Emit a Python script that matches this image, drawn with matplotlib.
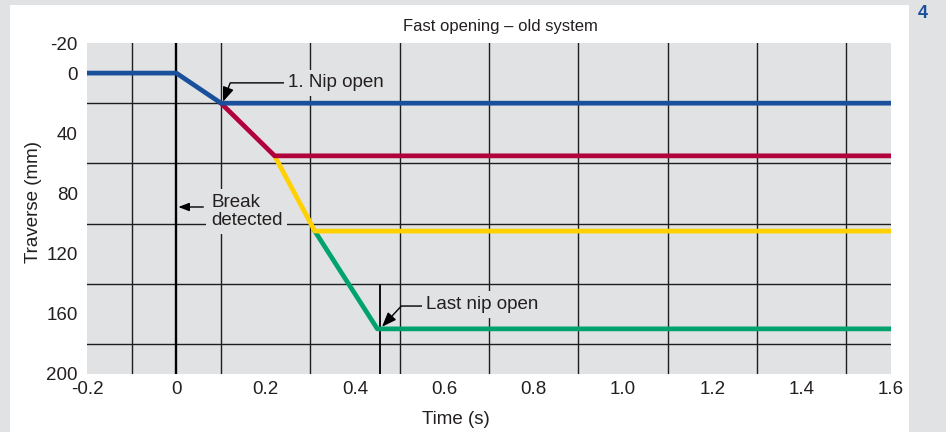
import numpy as np
import matplotlib.pyplot as plt
from matplotlib.patches import Rectangle

plt.rcParams['font.family'] = ['Liberation Sans', 'DejaVu Sans']

# traverse of each nip over time (s -> mm)
time_blue = [-0.2, 0.0, 0.1, 1.6]
trav_blue = [0, 0, 20, 20]
time_red = [0.1, 0.22, 1.6]
trav_red = [20, 55, 55]
time_yellow = [0.22, 0.31, 1.6]
trav_yellow = [55, 105, 105]
time_green = [0.31, 0.45, 1.6]
trav_green = [105, 170, 170]

break_time = 0.0
last_nip_time = 0.457

x_ticks = [-0.2, 0.0, 0.2, 0.4, 0.6, 0.8, 1.0, 1.2, 1.4, 1.6]
x_labels = ['-0.2', '0', '0.2', '0.4', '0.6', '0.8', '1.0', '1.2', '1.4', '1.6']
y_ticks = [-20, 0, 40, 80, 120, 160, 200]
y_labels = ['-20', '0', '40', '80', '120', '160', '200']
x_grid = [-0.1, 0.0, 0.1, 0.2, 0.3, 0.4, 0.5, 0.6, 0.7, 0.8, 0.9, 1.0, 1.1, 1.2, 1.3, 1.4, 1.5]
y_grid = [0, 20, 40, 60, 80, 100, 120, 140, 160, 180]

BG = '#e1e2e3'
FS = 13.5
TXT = '#231f20'

fig = plt.figure(figsize=(9.46, 4.32), dpi=100)
fig.patch.set_facecolor(BG)
fig.patches.append(Rectangle((10 / 946, 0), 899 / 946, 1 - 5 / 432,
                             transform=fig.transFigure, fc='white', ec='none', zorder=-10))

ax = fig.add_axes([87 / 946, 1 - 374 / 432, 804 / 946, 331 / 432])
ax.set_facecolor(BG)
for s in ax.spines.values():
    s.set_visible(False)

ax.set_xlim(-0.2, 1.6)
ax.set_ylim(200, -20)
ax.set_xticks(x_ticks)
ax.set_xticklabels(x_labels)
ax.set_yticks(y_ticks)
ax.set_yticklabels(y_labels)
ax.set_xticks(x_grid, minor=True)
ax.set_yticks(y_grid, minor=True)
ax.tick_params(which='both', length=0, labelsize=FS, labelcolor=TXT)
ax.tick_params(axis='x', pad=5)
ax.tick_params(axis='y', pad=6.5)
ax.grid(which='minor', color='#1e1e1e', lw=1.0)
ax.grid(which='major', visible=False)
ax.set_axisbelow(True)

ax.axvline(break_time, color='black', lw=1.7, zorder=1)
ax.plot([last_nip_time, last_nip_time], [141, 200], color='black', lw=1.3, zorder=1)

# draw from last to first so earlier nips sit on top
ax.plot(time_green, trav_green, color='#00a36c', lw=3.4, zorder=2)
ax.plot(time_yellow, trav_yellow, color='#ffd100', lw=3.4, zorder=3)
ax.plot(time_red, trav_red, color='#b2003c', lw=3.4, zorder=4)
ax.plot(time_blue, trav_blue, color='#1a4f9c', lw=3.4, zorder=5)

box = dict(boxstyle='square,pad=0.25', fc=BG, ec='none')
arrow = dict(arrowstyle='-|>,head_length=0.65,head_width=0.25', color='black', lw=1,
             shrinkA=0, shrinkB=0)

ax.annotate('1. Nip open', xy=(0.1045, 19), xytext=(0.251, 6.5), ha='left', va='center',
            fontsize=FS, color=TXT, bbox=box, zorder=6,
            arrowprops=dict(arrow, connectionstyle='angle,angleA=0,angleB=69,rad=0', relpos=(0, 0.5)))

ax.text(0.078, 92, 'Break\ndetected', ha='left', va='center', fontsize=FS, color=TXT, bbox=box,
        linespacing=1.15, zorder=6)
ax.annotate('', xy=(0.0045, 89), xytext=(0.0604, 89), arrowprops=arrow, zorder=6)

ax.annotate('Last nip open', xy=(0.4605, 168.6), xytext=(0.56, 153.7), ha='left', va='center',
            fontsize=FS, color=TXT, bbox=box, zorder=6,
            arrowprops=dict(arrow, connectionstyle='angle,angleA=0,angleB=47,rad=0', relpos=(0, 0.4)))

fig.text(500 / 946, 1 - 26 / 432, 'Fast opening – old system', ha='center', va='center',
         fontsize=12, color=TXT)
fig.text(456 / 946, 1 - 420 / 432, 'Time (s)', ha='center', va='center', fontsize=FS, color=TXT)
fig.text(34 / 946, 1 - 202 / 432, 'Traverse (mm)', ha='center', va='center', rotation=90,
         fontsize=FS, color=TXT)
fig.text(923 / 946, 1 - 14 / 432, '4', ha='center', va='center', fontsize=13,
         fontweight='bold', color='#1a4f9c')

fig.savefig('out.png', dpi=100, facecolor=fig.get_facecolor())
